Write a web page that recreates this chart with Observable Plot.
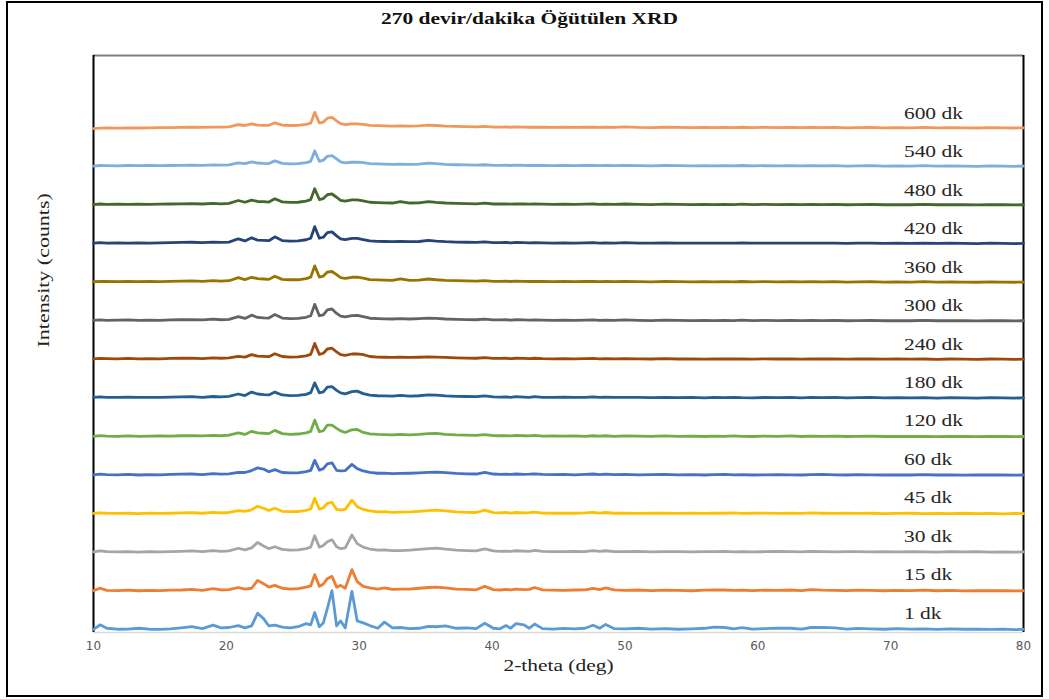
<!DOCTYPE html>
<html>
<head>
<meta charset="utf-8">
<script src="https://cdn.jsdelivr.net/npm/d3@7"></script>
<script src="https://cdn.jsdelivr.net/npm/@observablehq/plot@0.6"></script>
<style>
html, body { margin: 0; padding: 0; background: #fff; }
#wrap { position: relative; width: 1049px; height: 699px; overflow: hidden; }
#wrap svg { display: block; }
#frame { position: absolute; left: 6px; top: 1px; width: 1037px; height: 696px; border: 2px solid #000; box-sizing: border-box; pointer-events: none; }
</style>
</head>
<body>
<div id="wrap"><div id="frame"></div></div>
<script>
// ---------------- DATA ----------------
const titleText = "270 devir/dakika Öğütülen XRD";
const xLabel = "2-theta (deg)";
const yLabel = "Intensity (counts)";
const xTicks = [10, 20, 30, 40, 50, 60, 70, 80];

const seriesNames = ["1 dk", "15 dk", "30 dk", "45 dk", "60 dk", "120 dk", "180 dk", "240 dk", "300 dk", "360 dk", "420 dk", "480 dk", "540 dk", "600 dk"];
const seriesColors = ["#5B9BD5", "#ED7D31", "#A5A5A5", "#FFC000", "#4472C4", "#70AD47", "#255E91", "#9E480E", "#636363", "#997300", "#264478", "#43682B", "#7CAFDD", "#F1975A"];
const stackStep = 1000; // vertical offset between stacked patterns (counts)

const theta = [10,10.5,11,11.8,12.6,13.4,14.2,15,15.8,16.6,
 17.4,18.2,19.0,19.6,20.2,20.9,21.4,21.9,22.35,22.8,
 23.2,23.65,24.2,24.8,25.4,26.0,26.35,26.65,27.0,27.3,
 27.6,27.95,28.3,28.6,28.95,29.45,29.85,30.3,30.8,31.4,
 31.9,32.5,33.1,33.8,34.5,35.2,35.8,36.5,37.3,38.1,
 38.8,39.45,40.1,40.6,41.05,41.4,41.8,42.4,42.8,43.2,
 43.8,44.6,45.4,46.2,47.0,47.6,48.1,48.55,49.2,50,
 51,52,53,54,55,56,56.7,57.5,58.2,58.8,
 59.6,60.5,61.5,62.5,63.3,64.0,64.85,65.8,66.7,67.5,
 68.5,69.5,70.5,71.5,72.5,73.5,74.5,75.5,76.5,77.5,
 78.5,79.3,80];

const dk1 = [80,200,110,85,90,110,85,80,95,120,
 150,100,190,120,130,180,120,170,500,360,
 170,190,140,120,150,230,200,520,150,250,
 620,1090,170,300,120,1070,300,250,180,110,
 270,120,130,100,110,160,150,170,110,120,
 100,240,110,95,180,110,230,200,110,220,
 100,90,105,95,110,190,110,210,100,95,
 110,90,100,85,95,110,140,130,95,125,
 90,100,115,110,90,130,135,120,90,105,
 95,85,100,90,95,80,95,85,90,80,
 90,75,80];

const dk15 = [90,150,95,90,100,85,95,90,100,105,
 120,95,140,105,115,170,130,150,355,270,
 180,225,150,130,140,180,210,505,200,260,
 400,460,180,225,150,635,320,200,160,130,
 160,120,125,130,150,170,180,160,130,120,
 110,200,115,105,120,110,130,115,120,170,
 110,100,95,105,110,150,115,160,110,95,
 105,90,100,95,85,100,110,105,95,100,
 90,100,95,105,90,115,100,95,90,100,
 95,85,95,90,100,85,95,80,90,85,
 90,80,85];

const dk30 = [95,120,100,95,105,90,100,95,105,110,
 120,100,130,110,120,190,150,200,340,250,
 180,230,160,140,150,180,220,515,220,260,
 360,410,230,180,200,535,310,220,170,140,
 150,130,130,140,160,180,195,170,140,130,
 120,175,120,110,115,110,125,115,110,135,
 110,105,100,110,105,130,110,125,105,100,
 110,95,105,100,95,105,100,110,95,105,
 95,100,110,100,95,110,105,95,100,105,
 95,100,95,105,95,90,100,95,100,90,
 95,90,95];

const dk45 = [95,110,100,95,100,90,105,95,100,110,
 115,100,125,110,120,170,150,190,280,230,
 170,230,150,140,145,175,210,490,210,240,
 360,385,200,190,200,440,270,200,160,135,
 140,125,130,135,150,170,180,160,135,125,
 120,180,115,110,120,105,120,110,115,130,
 105,100,105,100,110,125,105,120,100,105,
 95,100,105,95,100,95,105,100,110,95,
 100,105,95,100,95,110,100,95,105,95,
 100,90,95,100,90,95,90,100,90,95,
 85,95,90];

const dk60 = [100,115,105,100,110,95,105,100,110,115,
 120,105,130,115,125,165,160,210,280,250,
 180,235,160,150,150,180,215,475,220,260,
 385,410,215,200,210,370,260,200,165,140,
 145,130,135,140,150,165,170,155,135,125,
 120,160,120,110,115,110,120,110,115,125,
 110,105,110,100,110,120,105,115,105,110,
 100,105,110,100,105,95,105,110,100,105,
 95,100,105,100,95,105,110,100,95,105,
 100,95,100,95,105,95,100,90,100,95,
 100,90,95];

const dk120 = [100,120,105,100,110,100,105,110,105,115,
 120,110,125,115,130,190,150,230,190,180,
 170,255,170,150,160,190,230,520,220,245,
 390,390,305,240,200,270,280,200,165,150,
 145,135,150,140,150,170,175,150,135,130,
 125,145,120,115,120,110,125,115,110,125,
 105,110,105,110,100,115,105,115,100,110,
 105,100,110,100,105,95,105,100,110,100,
 95,105,100,110,95,105,100,105,95,100,
 105,95,100,95,100,90,100,95,90,100,
 95,90,95];

const dk180 = [110,125,115,110,120,110,115,110,120,125,
 130,115,135,125,140,200,160,250,200,185,
 175,250,175,160,165,190,235,490,230,255,
 380,390,295,230,205,260,275,210,170,155,
 150,145,165,145,155,175,170,150,140,135,
 130,150,125,120,125,115,130,120,115,130,
 115,110,120,110,115,125,110,120,110,115,
 110,105,115,105,110,100,110,105,115,105,
 100,110,105,110,100,110,105,110,100,105,
 110,100,105,100,105,95,105,100,95,105,
 100,95,100];

const dk240 = [115,125,120,115,125,115,120,115,125,130,
 135,120,140,130,140,180,160,225,185,180,
 170,245,175,160,165,190,230,515,230,260,
 370,390,295,225,205,240,245,225,175,160,
 155,150,160,150,155,165,160,150,140,135,
 130,145,125,125,130,120,130,125,120,130,
 120,115,120,115,120,125,115,120,115,120,
 115,110,120,110,115,105,115,110,115,110,
 105,115,110,115,105,115,110,115,105,110,
 115,105,110,105,110,100,110,105,100,110,
 105,100,105];

const dk300 = [115,125,115,120,125,115,120,115,125,130,
 135,125,145,130,140,210,165,250,190,180,
 175,265,175,160,165,195,235,530,235,260,
 390,410,295,225,205,240,245,210,170,160,
 155,150,160,150,160,175,165,150,140,135,
 130,145,125,125,130,120,130,125,120,125,
 120,115,120,115,120,125,115,120,115,125,
 115,110,120,115,110,115,110,115,110,120,
 110,115,110,115,110,115,110,115,105,110,
 115,105,110,105,115,105,110,105,100,110,
 105,100,105];

const dk360 = [120,130,125,120,130,120,125,120,130,135,
 140,130,145,135,145,225,175,235,200,190,
 180,260,180,170,170,200,240,530,240,265,
 370,385,305,225,205,235,240,215,175,165,
 160,155,195,155,160,190,170,155,145,140,
 135,150,130,130,135,125,135,130,125,130,
 125,120,125,120,125,130,120,125,120,130,
 120,115,125,120,115,120,115,120,115,125,
 115,120,115,120,115,120,115,120,110,115,
 120,110,115,110,120,110,115,110,105,115,
 110,105,110];

const dk420 = [120,135,125,130,125,130,125,130,135,140,
 145,135,150,140,150,235,180,260,200,195,
 185,285,190,175,180,210,250,550,250,275,
 395,415,310,235,215,245,245,215,180,170,
 165,160,170,160,165,195,175,160,150,145,
 140,155,135,135,140,130,140,135,130,135,
 130,125,130,125,130,135,125,130,125,135,
 125,120,130,125,120,125,120,125,120,130,
 120,125,120,125,120,125,120,125,115,120,
 125,115,120,115,125,115,120,115,110,120,
 115,110,115];

const dk480 = [125,140,130,135,130,135,130,135,140,145,
 150,140,155,145,155,230,185,240,205,200,
 190,275,195,180,185,215,255,535,255,280,
 380,400,315,235,215,245,245,220,185,175,
 170,165,200,165,170,200,180,165,155,150,
 145,160,140,140,145,135,145,140,135,140,
 135,130,135,130,135,140,130,135,130,140,
 130,125,135,130,125,130,125,130,125,135,
 125,130,125,130,125,130,125,130,120,125,
 130,120,125,120,130,120,125,120,115,125,
 120,115,120];

const dk540 = [125,140,135,130,140,135,140,135,140,145,
 150,145,155,150,155,210,190,235,205,195,
 190,260,195,185,190,215,250,520,250,280,
 380,400,310,235,210,225,230,215,190,180,
 175,170,175,170,175,200,190,170,160,155,
 150,160,145,145,150,140,150,145,140,145,
 140,135,140,135,140,145,135,140,135,145,
 135,130,140,135,130,135,130,135,130,140,
 130,135,130,135,130,135,130,135,125,130,
 135,125,130,125,135,125,130,125,120,130,
 125,120,125];

const dk600 = [100,110,115,110,120,115,120,125,125,130,
 135,130,140,140,145,200,180,225,190,185,
 185,250,190,180,185,210,240,520,245,270,
 370,390,300,230,205,220,225,210,185,175,
 170,165,170,165,170,190,180,165,155,150,
 145,155,140,140,145,135,145,140,135,140,
 135,130,135,130,135,140,130,135,130,145,
 130,125,135,130,125,130,125,130,125,135,
 125,130,125,130,125,130,125,130,120,125,
 130,120,125,120,130,120,125,120,115,125,
 120,115,120];

const seriesValues = [dk1, dk15, dk30, dk45, dk60, dk120, dk180, dk240, dk300, dk360, dk420, dk480, dk540, dk600];

// ---------------- BUILD ----------------
const rows = [];
seriesValues.forEach((vals, k) => {
  vals.forEach((v, j) => rows.push({theta: theta[j], y: k * stackStep + v, series: seriesNames[k]}));
});
const labelRows = seriesNames.map((name, k) => ({name, y: k * stackStep + 490}));

const serif = "'Liberation Serif', 'Times New Roman', serif";

const lineMarks = seriesNames.map((name, k) =>
  Plot.line(rows.filter(d => d.series === name), {
    x: "theta", y: "y", stroke: seriesColors[k], strokeWidth: 2.8, strokeLinejoin: "round", strokeLinecap: "round"
  })
);

const chart = Plot.plot({
  width: 1049,
  height: 699,
  marginLeft: 93,
  marginRight: 26,
  marginTop: 55,
  marginBottom: 67,
  style: {background: "transparent", fontFamily: "'DejaVu Sans', sans-serif", fontSize: "12px", color: "#595959"},
  x: {domain: [10, 80], ticks: xTicks, tickSize: 0, tickPadding: 9, label: null, tickFormat: d => String(d)},
  y: {domain: [0, 15000], axis: null},
  marks: [
    Plot.ruleY([0], {stroke: "#d9d9d9", strokeWidth: 1.5}),
    Plot.ruleY([15000], {stroke: "#7f7f7f", strokeWidth: 2}),
    Plot.ruleX([10], {stroke: "#000", strokeWidth: 2}),
    Plot.ruleX([80], {stroke: "#000", strokeWidth: 2}),
    ...lineMarks,
    Plot.text(labelRows, {x: () => 71, y: "y", text: "name", textAnchor: "start", lineAnchor: "middle", fontFamily: serif, fontSize: 16, fill: "#262626"}),
    Plot.text([titleText], {frameAnchor: "top", dx: -29, dy: -37, lineAnchor: "middle", fontFamily: serif, fontSize: 16, fontWeight: "bold", fill: "#111"}),
    Plot.text([xLabel], {frameAnchor: "bottom", dy: 33, lineAnchor: "middle", fontFamily: serif, fontSize: 16, fill: "#222"}),
    Plot.text([yLabel], {frameAnchor: "left", dx: -50, dy: 3.5, rotate: -90, lineAnchor: "middle", fontFamily: serif, fontSize: 16.4, fill: "#222", ariaLabel: "y-label"})
  ]
});

// horizontally widen the serif texts to match the stretched look of the reference
d3.select(chart).selectAll('g[aria-label="text"] text').each(function() {
  const t = this.getAttribute("transform");
  if (t) this.setAttribute("transform", t + " scale(1.34,1)");
  else {
    const x = +this.getAttribute("x") || 0, y = +this.getAttribute("y") || 0;
    this.removeAttribute("x"); this.removeAttribute("y");
    this.setAttribute("transform", `translate(${x},${y}) scale(1.34,1)`);
  }
});

document.getElementById("wrap").prepend(chart);
</script>
</body>
</html>
